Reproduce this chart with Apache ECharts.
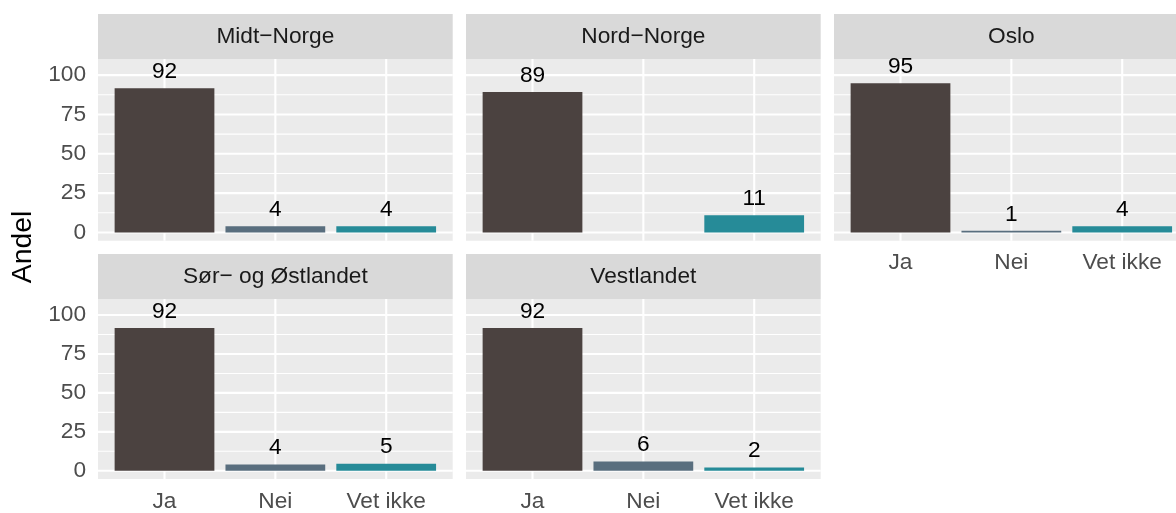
<!DOCTYPE html>
<html>
<head>
<meta charset="utf-8">
<script src="https://cdn.jsdelivr.net/npm/echarts@6/dist/echarts.min.js"></script>
<style>
  html, body { margin: 0; padding: 0; background: #fff; overflow: hidden; }
  /* the last facet column runs past the right edge of the 1176px picture */
  #chart { width: 1190px; height: 513px; }
</style>
</head>
<body>
<div id="chart"></div>
<script>
// categories
const answers = ['Ja', 'Nei', 'Vet ikke']
const regions = ['Midt\u2212Norge', 'Nord\u2212Norge', 'Oslo', 'S\u00f8r\u2212 og \u00d8stlandet', 'Vestlandet']

// share (%) per answer, one array per region (null = no bar)
const midtNorge = [91.7, 4.0, 4.0]
const nordNorge = [89.2, null, 11.0]
const oslo = [94.9, 1.0, 4.0]
const sorOgOstlandet = [91.7, 4.0, 4.6]
const vestlandet = [91.7, 5.9, 2.1]
const regionValues = [midtNorge, nordNorge, oslo, sorOgOstlandet, vestlandet]

// axis ticks
const yTicks = [0, 25, 50, 75, 100]
const yMinorTicks = [12.5, 37.5, 62.5, 87.5]
const xTicks = [1, 2, 3]

const barColors = ['#4b4240', '#596e7e', '#268b98']
const font = 'Liberation Sans, Arial, sans-serif'
const textSize = 22.7

const colLeft = [98, 466, 834]
const rowTop = [59, 299]
const panelW = 354.7
const panelH = 181.7
const stripH = 45

const chart = echarts.init(document.getElementById('chart'))

// grid line items: [0 = horizontal / 1 = vertical, value, line width]
const gridLineData = [
  ...yMinorTicks.map(v => [0, v, 1.05]),
  ...yTicks.map(v => [0, v, 2.1]),
  ...xTicks.map(v => [1, v, 2.1])
]

const renderGridLine = (params, api) => {
  const cs = params.coordSys
  const dir = api.value(0)
  const v = api.value(1)
  let shape
  if (dir === 0) {
    const y = api.coord([1, v])[1]
    shape = { x1: cs.x, y1: y, x2: cs.x + cs.width, y2: y }
  } else {
    const x = api.coord([v, 0])[0]
    shape = { x1: x, y1: cs.y, x2: x, y2: cs.y + cs.height }
  }
  return { type: 'line', shape: shape, style: { stroke: '#fff', lineWidth: api.value(2) } }
}

const renderBar = (params, api) => {
  const x = api.value(0)
  const v = api.value(1)
  const p0 = api.coord([x - 0.45, v])
  const p1 = api.coord([x + 0.45, 0])
  return {
    type: 'group',
    children: [
      {
        type: 'rect',
        shape: { x: p0[0], y: p0[1], width: p1[0] - p0[0], height: p1[1] - p0[1] },
        style: { fill: barColors[Math.round(x) - 1] }
      },
      {
        type: 'text',
        x: (p0[0] + p1[0]) / 2, y: p0[1] - 5,
        style: {
          text: String(Math.round(v)), align: 'center', verticalAlign: 'bottom',
          fill: '#000', font: textSize + 'px ' + font
        }
      }
    ]
  }
}

const grids = []
const xAxes = []
const yAxes = []
const series = []
const graphics = []

regions.forEach((name, i) => {
  const col = i % 3
  const row = Math.floor(i / 3)
  const left = colLeft[col]
  const top = rowTop[row]
  const showX = row === 1 || col === 2
  const showY = col === 0

  grids.push({
    left: left, top: top, width: panelW, height: panelH,
    show: true, backgroundColor: '#ebebeb', borderWidth: 0,
    containLabel: false
  })
  xAxes.push({
    type: 'value', gridIndex: i, min: 0.4, max: 3.6,
    axisLine: { show: false }, axisTick: { show: false }, splitLine: { show: false },
    axisLabel: {
      show: showX, customValues: xTicks, margin: 11,
      color: '#4d4d4d', fontSize: textSize, fontFamily: font,
      formatter: v => answers[Math.round(v) - 1]
    }
  })
  yAxes.push({
    type: 'value', gridIndex: i, min: -5.25, max: 110.25,
    axisLine: { show: false }, axisTick: { show: false }, splitLine: { show: false },
    axisLabel: {
      show: showY, customValues: yTicks, margin: 12,
      color: '#4d4d4d', fontSize: textSize, fontFamily: font
    }
  })

  series.push({
    type: 'custom', xAxisIndex: i, yAxisIndex: i, z: 1,
    silent: true, animation: false,
    data: gridLineData,
    renderItem: renderGridLine
  })

  const data = []
  regionValues[i].forEach((v, k) => { if (v !== null) data.push([k + 1, v]) })
  series.push({
    type: 'custom', xAxisIndex: i, yAxisIndex: i, z: 2,
    silent: true, animation: false,
    data: data,
    renderItem: renderBar
  })

  // facet strip
  graphics.push({
    type: 'group', left: left, top: top - stripH,
    children: [
      { type: 'rect', shape: { x: 0, y: 0, width: panelW, height: stripH }, style: { fill: '#d9d9d9' } },
      {
        type: 'text', x: panelW / 2, y: stripH / 2 + 0.5,
        style: { text: name, align: 'center', verticalAlign: 'middle', fill: '#1a1a1a', font: textSize + 'px ' + font }
      }
    ]
  })
})

graphics.push({
  type: 'text', x: 23, y: 247, rotation: Math.PI / 2,
  style: { text: 'Andel', align: 'center', verticalAlign: 'middle', fill: '#000', font: '28.4px ' + font }
})

chart.setOption({
  animation: false,
  backgroundColor: '#fff',
  grid: grids,
  xAxis: xAxes,
  yAxis: yAxes,
  series: series,
  graphic: graphics
})
</script>
</body>
</html>
